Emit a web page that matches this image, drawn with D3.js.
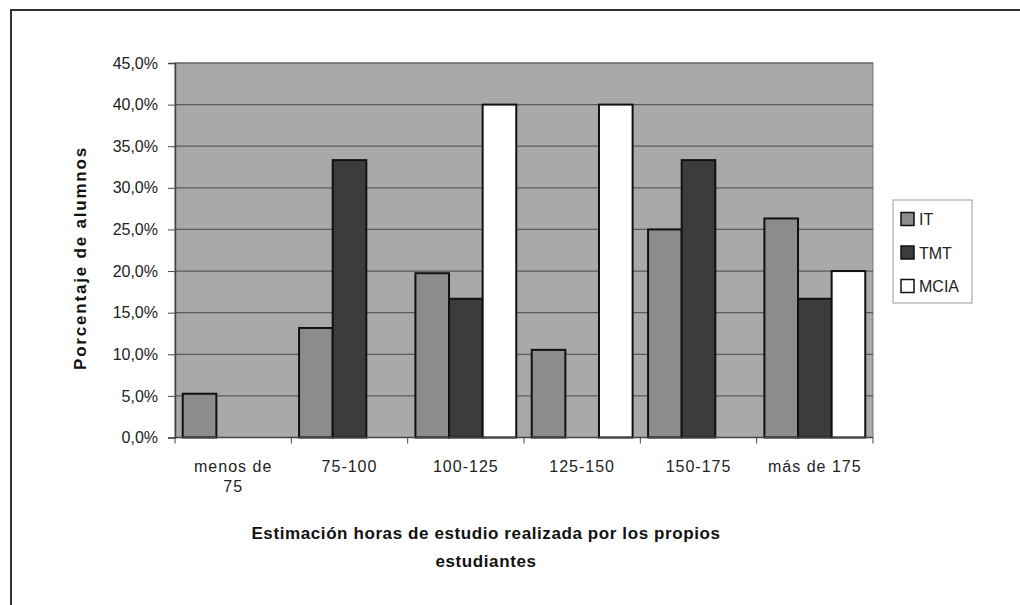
<!DOCTYPE html>
<html><head><meta charset="utf-8">
<script src="https://cdn.jsdelivr.net/npm/d3@7"></script>
<style>body{margin:0;background:#fff}svg{display:block}</style>
</head><body>
<svg id="c" width="1020" height="605"></svg>
<script>
const categories = [["menos de","75"],["75-100"],["100-125"],["125-150"],["150-175"],["más de 175"]];
const seriesNames = ["IT","TMT","MCIA"];
const IT   = [5.26, 13.16, 19.74, 10.53, 25.0, 26.32];
const TMT  = [0, 33.33, 16.67, 0, 33.33, 16.67];
const MCIA = [0, 0, 40.0, 40.0, 0, 20.0];
const yTicks = [0,5,10,15,20,25,30,35,40,45];
const colors = ["#8c8c8c","#3c3c3c","#ffffff"];

const svg = d3.select("#c");
const font = "Liberation Sans, Arial, sans-serif";
svg.append("path").attr("d","M11,605 V10 H1020").attr("fill","none").attr("stroke","#333").attr("stroke-width",2);

const L=175, R=873, T=63, B=437.5;
const x0 = d3.scaleBand().domain(d3.range(categories.length)).range([L,R]).paddingInner(0).paddingOuter(0);
const x1 = d3.scaleBand().domain(seriesNames).range([0,x0.bandwidth()]).paddingInner(0).paddingOuter(0.23);
const y = d3.scaleLinear().domain([0,45]).range([B,T]);

svg.append("rect").attr("x",L).attr("y",T).attr("width",R-L).attr("height",B-T).attr("fill","#a9a9a9").attr("stroke","#777").attr("stroke-width",1);
svg.append("g").selectAll("line").data(yTicks.slice(1)).join("line")
  .attr("x1",L).attr("x2",R).attr("y1",d=>y(d)).attr("y2",d=>y(d)).attr("stroke","#5a5a5a").attr("stroke-width",1.2);

const data = [IT,TMT,MCIA];
const g = svg.append("g");
categories.forEach((c,i)=>{
  seriesNames.forEach((s,j)=>{
    const v = data[j][i];
    if(v<=0) return;
    g.append("rect").attr("x",x0(i)+x1(s)).attr("y",y(v)).attr("width",x1.bandwidth()).attr("height",B-y(v))
      .attr("fill",colors[j]).attr("stroke","#111").attr("stroke-width",2);
  });
});

const ya = svg.append("g").attr("transform",`translate(${L},0)`)
  .call(d3.axisLeft(y).tickValues(yTicks).tickSize(7).tickPadding(10).tickFormat(d=>d.toFixed(1).replace(".",",")+"%"));
ya.select(".domain").attr("stroke","#444").attr("stroke-width",1.5);
ya.selectAll(".tick line").attr("stroke","#444");
ya.selectAll("text").attr("font-family",font).attr("font-size",16).attr("fill","#222");

const xa = svg.append("g").attr("transform",`translate(0,${B})`);
xa.append("line").attr("x1",L).attr("x2",R).attr("stroke","#444").attr("stroke-width",1.5);
xa.selectAll("line.t").data(d3.range(categories.length+1)).join("line").attr("class","t")
  .attr("x1",d=>L+d*x0.bandwidth()).attr("x2",d=>L+d*x0.bandwidth()).attr("y1",0).attr("y2",6).attr("stroke","#444");
const xt = xa.selectAll("text").data(categories).join("text")
  .attr("x",(d,i)=>x0(i)+x0.bandwidth()/2).attr("y",34).attr("text-anchor","middle")
  .attr("font-family",font).attr("font-size",16).attr("letter-spacing",1).attr("fill","#222");
xt.each(function(d){ d.forEach((l,k)=>d3.select(this).append("tspan").attr("x",d3.select(this).attr("x")).attr("dy",k?20:0).text(l)); });

svg.append("text").attr("transform","translate(86,258) rotate(-90)").attr("text-anchor","middle")
  .attr("font-family",font).attr("font-weight","bold").attr("font-size",17).attr("letter-spacing",1.8).attr("fill","#111").text("Porcentaje de alumnos");
const xtitle = svg.append("text").attr("text-anchor","middle").attr("font-family",font).attr("font-weight","bold").attr("font-size",17).attr("fill","#111");
xtitle.append("tspan").attr("x",486).attr("y",539).attr("letter-spacing",0.6).text("Estimación horas de estudio realizada por los propios");
xtitle.append("tspan").attr("x",486).attr("y",567).attr("letter-spacing",0.6).text("estudiantes");

const lg = svg.append("g").attr("transform","translate(893,200)");
lg.append("rect").attr("width",79).attr("height",103).attr("fill","#fff").attr("stroke","#999");
seriesNames.forEach((s,j)=>{
  const yy = 19 + j*33.5;
  lg.append("rect").attr("x",8).attr("y",yy-6.5).attr("width",13).attr("height",13).attr("fill",colors[j]).attr("stroke","#111").attr("stroke-width",1.5);
  lg.append("text").attr("x",26).attr("y",yy+6).attr("font-family",font).attr("font-size",16).attr("fill","#222").text(s);
});
</script>
</body></html>
